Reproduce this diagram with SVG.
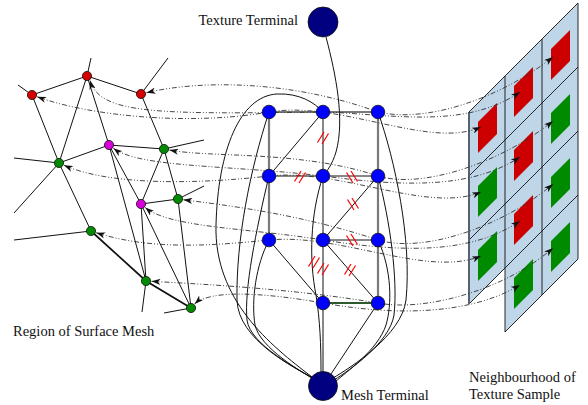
<svg xmlns="http://www.w3.org/2000/svg" xmlns:xlink="http://www.w3.org/1999/xlink" width="588" height="405" viewBox="0 0 588 405">
  <style>
    .lbl { font-family: "Liberation Serif", "Times New Roman", serif; font-size: 14.5px; fill: #111; }
    .mesh-edge { stroke: #111; stroke-width: 1; fill: none; }
    .mesh-edge-bold { stroke: #111; stroke-width: 1.7; fill: none; }
    .vtx { stroke: #111; stroke-width: 0.8; }
    .red { fill: #d40000; }
    .mag { fill: #d800d8; }
    .grn { fill: #008a00; }
    .gnode { fill: #0000ff; stroke: #111; stroke-width: 0.8; }
    .term { fill: #000080; stroke: #111; stroke-width: 0.8; }
    .g-grey { stroke: #7a7a7a; stroke-width: 2.2; fill: none; }
    .g-thin { stroke: #111; stroke-width: 1; fill: none; }
    .g-green { stroke: #2f5a2f; stroke-width: 2.2; fill: none; }
    .tlink { stroke: #111; stroke-width: 1; fill: none; }
    .map { stroke: #333; stroke-width: 0.9; fill: none; stroke-dasharray: 5 2 1 2 1 2; marker-start: url(#arrow); marker-end: url(#arrow); }
    .cut { stroke: #ff0000; stroke-width: 1.2; fill: none; }
    .cell { fill: #bfd6e9; stroke: none; }
    .grid { stroke: #111; stroke-width: 0.9; fill: none; vector-effect: non-scaling-stroke; }
    .tex-red { fill: #cc0000; }
    .tex-grn { fill: #008a00; }
  </style>
  <defs>
    <marker id="arrow" viewBox="0 0 10 7" refX="10" refY="3.5" markerWidth="9" markerHeight="6.3" markerUnits="userSpaceOnUse" orient="auto-start-reverse">
      <path d="M0,0 L10,3.5 L0,7 L2.8,3.5 Z" fill="#111"/>
    </marker>
    <path id="cutS" d="M-5.5,4.5 L1,-6 M-1,6 L5.5,-4.5"/>
    <path id="cutB" d="M-5.5,-4.5 L1,6 M-1,-6 L5.5,4.5"/>
  </defs>

  <!-- texture sample neighbourhood: sheared 3-column grid -->
  <g id="texture-sample" transform="matrix(1,-1,0,1,469,112)">
    <rect class="cell" x="0" y="0" width="36" height="192"/>
    <rect class="cell" x="36" y="0" width="37" height="256"/>
    <rect class="cell" x="73" y="0" width="36" height="256"/>
    <!-- samples -->
    <rect class="tex-red" x="9" y="19" width="19" height="31"/>
    <rect class="tex-grn" x="9" y="83" width="19" height="31"/>
    <rect class="tex-grn" x="9" y="147" width="19" height="31"/>
    <rect class="tex-red" x="45" y="19" width="19" height="31"/>
    <rect class="tex-red" x="45" y="83" width="19" height="31"/>
    <rect class="tex-red" x="45" y="147" width="19" height="31"/>
    <rect class="tex-grn" x="45" y="211" width="19" height="31"/>
    <rect class="tex-red" x="82" y="19" width="19" height="31"/>
    <rect class="tex-grn" x="82" y="83" width="19" height="31"/>
    <rect class="tex-grn" x="82" y="147" width="19" height="31"/>
    <rect class="tex-grn" x="82" y="211" width="19" height="31"/>
    <!-- grid lines -->
    <path class="grid" d="M0,0 H109 M0,64 H109 M0,128 H109 M0,192 H109 M36,256 H109 M36,0 V256 M73,0 V256 M109,0 V256"/>
    <path d="M0,0 V192" stroke="#56626f" stroke-width="2" fill="none" vector-effect="non-scaling-stroke"/>
  </g>

  <!-- surface mesh edges -->
  <g id="mesh-edges">
    <path class="mesh-edge" d="M32,95 L87,76 L141,94 M32,95 L59,163 M87,76 L59,163 M87,76 L109,145 M141,94 L164,149 M109,145 L164,149 M109,145 L59,163 M59,163 L91,231 M109,145 L146,281 M109,145 L141,204 M164,149 L141,204 M164,149 L178,199 M141,204 L178,199 M141,204 L146,281 M141,204 L191,308 M178,199 L191,308"/>
    <path class="mesh-edge-bold" d="M91,231 L146,281 L191,308"/>
    <path class="mesh-edge" d="M32,95 L18,85 M87,76 L91,58 M141,94 L168,58 M59,163 L14,158 M59,163 L14,213 M164,149 L204,140 M178,199 L204,186 M91,231 L14,240 M146,281 L142,312 M191,308 L164,313"/>
  </g>

  <!-- graph edges, terminal links, mapping arrows and cut marks -->
  <g id="connectors">
    <path class="g-grey" d="M269,112 H378 M269,112 V240 M378,112 V303"/>
    <path class="g-thin" d="M323,112 L269,176 M323,112 V303 M269,176 H378 M378,176 L323,240 M323,240 H378 M269,240 L323,303 M323,240 L378,303"/>
    <path class="g-green" d="M323,303 H378"/>

    <path class="tlink" d="M326,37 C336,75 345,120 336,152 C332,165 327,171 323,176"/>
    <path class="tlink" d="M312,377 C270,345 214,300 216,225 C218,150 240,96 277,94 C300,93 315,103 323,112"/>
    <path class="tlink" d="M269,112 C250,170 236,240 237,300 C238,340 295,368 313,378"/>
    <path class="tlink" d="M269,176 C256,230 244,290 247,320 C250,345 300,370 314,379"/>
    <path class="tlink" d="M269,240 C256,265 251,300 255,325 C260,348 302,372 315,380"/>
    <path class="tlink" d="M378,112 C395,160 412,240 406,300 C402,335 350,368 333,378"/>
    <path class="tlink" d="M378,176 C390,220 398,280 394,315 C390,342 350,370 334,380"/>
    <path class="tlink" d="M378,240 C392,270 392,305 386,325 C378,350 346,372 335,382"/>
    <path class="tlink" d="M323,176 C310,215 309,260 316,295 C320,320 321,345 321,372"/>
    <path class="tlink" d="M323,303 V372 M378,303 L331,374"/>

    <path class="map" d="M146.5,92.7 C200,80 290,80 378,112 C430,124 505,95 553,57"/>
    <path class="map" d="M90,80.6 C100,115 160,114 323,112 C390,114 465,130 520,92"/>
    <path class="map" d="M37.2,96.8 C90,116 190,126 269,112 C340,100 430,150 481,127"/>
    <path class="map" d="M169.4,150 C210,158 300,150 378,176 C425,190 505,160 553,121"/>
    <path class="map" d="M113.4,148.3 C140,168 230,165 323,176 C400,186 470,190 520,157"/>
    <path class="map" d="M64,165.2 C110,186 200,184 269,176 C340,168 428,214 481,192"/>
    <path class="map" d="M183.4,199.8 C225,205 300,214 378,240 C425,254 505,225 553,184"/>
    <path class="map" d="M145.2,207.5 C170,228 250,228 323,240 C400,252 470,255 520,221"/>
    <path class="map" d="M96.2,232.7 C150,250 210,246 269,240 C340,233 428,278 481,256"/>
    <path class="map" d="M151.5,281.3 C220,285 300,290 378,303 C425,312 505,290 553,248"/>
    <path class="map" d="M194.6,303.9 C210,290 260,292 323,303 C395,316 470,315 520,285"/>

    <use href="#cutS" class="cut" x="323" y="138"/>
    <use href="#cutS" class="cut" x="300" y="177"/>
    <use href="#cutB" class="cut" x="352" y="177"/>
    <use href="#cutB" class="cut" x="353" y="204"/>
    <use href="#cutB" class="cut" x="352" y="240"/>
    <use href="#cutS" class="cut" x="350" y="270"/>
    <use href="#cutS" class="cut" x="323" y="269"/>
    <use href="#cutS" class="cut" x="314" y="262"/>
  </g>

  <!-- surface mesh vertices -->
  <g id="v-a"><circle class="vtx red" cx="32" cy="95" r="4.6"/></g>
  <g id="v-b"><circle class="vtx red" cx="87" cy="76" r="4.6"/></g>
  <g id="v-c"><circle class="vtx red" cx="141" cy="94" r="4.6"/></g>
  <g id="v-d"><circle class="vtx mag" cx="109" cy="145" r="4.6"/></g>
  <g id="v-e"><circle class="vtx grn" cx="164" cy="149" r="4.6"/></g>
  <g id="v-f"><circle class="vtx grn" cx="59" cy="163" r="4.6"/></g>
  <g id="v-g"><circle class="vtx mag" cx="141" cy="204" r="4.6"/></g>
  <g id="v-h"><circle class="vtx grn" cx="178" cy="199" r="4.6"/></g>
  <g id="v-i"><circle class="vtx grn" cx="91" cy="231" r="4.6"/></g>
  <g id="v-j"><circle class="vtx grn" cx="146" cy="281" r="4.6"/></g>
  <g id="v-k"><circle class="vtx grn" cx="191" cy="308" r="4.6"/></g>

  <!-- graph nodes -->
  <g id="n11"><circle class="gnode" cx="269" cy="112" r="6.8"/></g>
  <g id="n21"><circle class="gnode" cx="323" cy="112" r="6.8"/></g>
  <g id="n31"><circle class="gnode" cx="378" cy="112" r="6.8"/></g>
  <g id="n12"><circle class="gnode" cx="269" cy="176" r="6.8"/></g>
  <g id="n22"><circle class="gnode" cx="323" cy="176" r="6.8"/></g>
  <g id="n32"><circle class="gnode" cx="378" cy="176" r="6.8"/></g>
  <g id="n13"><circle class="gnode" cx="269" cy="240" r="6.8"/></g>
  <g id="n23"><circle class="gnode" cx="323" cy="240" r="6.8"/></g>
  <g id="n33"><circle class="gnode" cx="378" cy="240" r="6.8"/></g>
  <g id="n24"><circle class="gnode" cx="323" cy="303" r="6.8"/></g>
  <g id="n34"><circle class="gnode" cx="378" cy="303" r="6.8"/></g>

  <!-- terminals -->
  <g id="texture-terminal">
    <circle class="term" cx="323" cy="22" r="15"/>
    <text class="lbl" x="298" y="25" text-anchor="end">Texture Terminal</text>
  </g>
  <g id="mesh-terminal">
    <circle class="term" cx="323" cy="386" r="14.5"/>
    <text class="lbl" x="341" y="400">Mesh Terminal</text>
  </g>

  <!-- captions -->
  <text class="lbl" x="13" y="336">Region of Surface Mesh</text>
  <text class="lbl" x="469" y="382">Neighbourhood of</text>
  <text class="lbl" x="469" y="399">Texture Sample</text>
</svg>
